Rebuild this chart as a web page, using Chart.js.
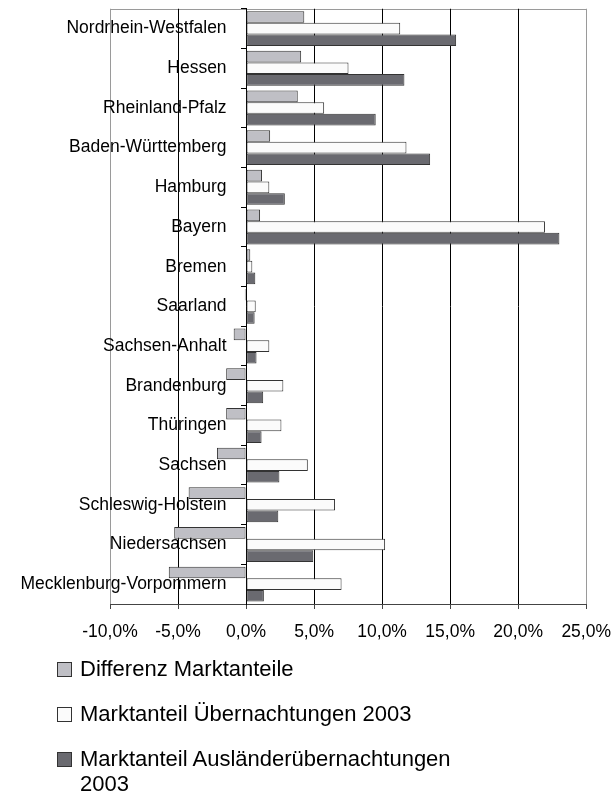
<!DOCTYPE html>
<html lang="de">
<head>
    <meta charset="UTF-8">
    <title>Marktanteile Bundesländer</title>
    <style>
        body, html {
            margin: 0;
            padding: 0;
            background: #fff;
        }
        .wrap {
            position: relative;
            width: 613px;
            height: 793px;
            font-family: "Liberation Sans", Arial, sans-serif;
        }
        #marketChart {
            position: absolute;
            left: 0;
            top: 0;
        }
        .legend {
            position: absolute;
            left: 57px;
            top: 656px;
            font-size: 22px;
            line-height: 25px;
            color: #000;
        }
        .legend-row {
            display: flex;
            align-items: flex-start;
            margin-bottom: 20px;
        }
        .legend-box {
            width: 13px;
            height: 13px;
            border: 1px solid #333;
            margin-top: 6px;
            margin-right: 8px;
            flex: none;
        }
        .legend-text {
            max-width: 390px;
        }
    </style>
    <script src="https://cdn.jsdelivr.net/npm/chart.js"></script>
</head>
<body>
<div class="wrap">
    <canvas id="marketChart" width="613" height="660"></canvas>
    <div class="legend" id="legend"></div>
</div>
<script>
    const states = [
        'Nordrhein-Westfalen', 'Hessen', 'Rheinland-Pfalz', 'Baden-Württemberg',
        'Hamburg', 'Bayern', 'Bremen', 'Saarland', 'Sachsen-Anhalt', 'Brandenburg',
        'Thüringen', 'Sachsen', 'Schleswig-Holstein', 'Niedersachsen', 'Mecklenburg-Vorpommern'
    ];
    const seriesNames = [
        'Differenz Marktanteile',
        'Marktanteil Übernachtungen 2003',
        'Marktanteil Ausländerübernachtungen 2003'
    ];
    // values in percent
    const diffShare = [4.28, 4.05, 3.80, 1.77, 1.17, 1.03, 0.31, -0.09, -0.91, -1.46, -1.46, -2.14, -4.22, -5.28, -5.68];
    const shareNights = [11.33, 7.53, 5.74, 11.79, 1.71, 21.97, 0.46, 0.71, 1.71, 2.74, 2.60, 4.54, 6.54, 10.22, 7.02];
    const shareForeign = [15.44, 11.64, 9.53, 13.53, 2.85, 23.03, 0.68, 0.63, 0.77, 1.26, 1.14, 2.45, 2.37, 4.94, 1.31];
    const xMin = -10, xMax = 25, xStep = 5;

    const fills = ['#bfbfc5', '#fbfbfb', '#6a6a70'];
    const fontFamily = '"Liberation Sans", Arial, sans-serif';

    // grey frame around the plot area
    const frame = {
        id: 'frame',
        beforeDraw(chart) {
            const a = chart.chartArea;
            const c = chart.ctx;
            c.save();
            c.strokeStyle = '#9a9a9a';
            c.lineWidth = 1;
            c.strokeRect(Math.round(a.left) + 0.5, Math.round(a.top) + 0.5,
                Math.round(a.right - a.left), Math.round(a.bottom - a.top));
            c.restore();
        }
    };

    const ctx = document.getElementById('marketChart').getContext('2d');
    const chart = new Chart(ctx, {
        type: 'bar',
        data: {
            labels: states,
            datasets: [diffShare, shareNights, shareForeign].map((d, i) => ({
                label: seriesNames[i],
                data: d,
                backgroundColor: fills[i],
                borderColor: '#333',
                borderWidth: 1,
                borderSkipped: false,
                categoryPercentage: 0.88,
                barPercentage: 1.0
            }))
        },
        options: {
            indexAxis: 'y',
            responsive: false,
            animation: false,
            layout: {
                padding: { left: 110, right: 26, top: 0, bottom: 5 }
            },
            plugins: {
                legend: { display: false },
                tooltip: { enabled: false }
            },
            scales: {
                x: {
                    min: xMin,
                    max: xMax,
                    position: 'bottom',
                    ticks: {
                        stepSize: xStep,
                        padding: 2,
                        color: '#000',
                        font: { family: fontFamily, size: 17.5, lineHeight: 2.4 },
                        callback: v => v.toFixed(1).replace('.', ',') + '%'
                    },
                    grid: {
                        color: c => (c.tick && (c.tick.value === xMin || c.tick.value === xMax)) ? '#9a9a9a' : '#000',
                        tickColor: '#444',
                        tickLength: 5,
                        lineWidth: 1
                    },
                    border: { color: '#444', width: 1 }
                },
                y: {
                    type: 'category',
                    position: { x: 0 },
                    offset: true,
                    ticks: {
                        padding: 0,
                        color: '#000',
                        font: { family: fontFamily, size: 17.5, lineHeight: 1 },
                        // keep the names clear of the zero line
                        callback: function (v) { return this.getLabelForValue(v) + '    '; }
                    },
                    grid: {
                        offset: true,
                        drawOnChartArea: false,
                        tickLength: 5,
                        tickColor: '#000'
                    },
                    border: { color: '#000', width: 1 }
                }
            }
        },
        plugins: [frame]
    });

    // legend below the chart, one entry per row
    const legend = document.getElementById('legend');
    seriesNames.forEach((name, i) => {
        const row = document.createElement('div');
        row.className = 'legend-row';
        const box = document.createElement('div');
        box.className = 'legend-box';
        box.style.background = fills[i];
        const txt = document.createElement('div');
        txt.className = 'legend-text';
        txt.textContent = name;
        row.appendChild(box);
        row.appendChild(txt);
        legend.appendChild(row);
    });
</script>
</body>
</html>
